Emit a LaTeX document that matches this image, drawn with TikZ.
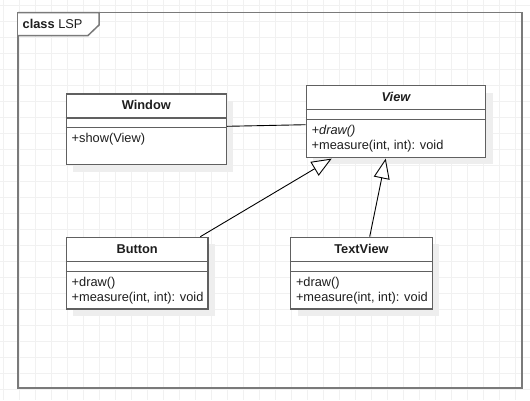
\documentclass[tikz,border=0pt]{standalone}
\usepackage{fontspec}
\setmainfont{Liberation Sans}
\usetikzlibrary{arrows.meta,calc,shadows}

\definecolor{gridgray}{HTML}{F1F1F1}
\definecolor{framegray}{HTML}{7A7A7A}
\definecolor{boxgray}{HTML}{606060}
\definecolor{shadowgray}{HTML}{EEEEEE}
\definecolor{textdark}{HTML}{1E1E1E}

\tikzset{
  gridline/.style={draw=gridgray, line width=0.8pt},
  frameline/.style={draw=framegray, line width=1.5pt},
  classbox/.style={draw=boxgray, line width=1.3pt, fill=white, inner sep=0pt,
    anchor=north west,
    drop shadow={shadow xshift=7pt, shadow yshift=-7pt, fill=shadowgray, opacity=1}},
  divider/.style={draw=boxgray, line width=1.3pt},
  classname/.style={anchor=base, inner sep=0pt, text=textdark,
    font=\fontsize{12.8}{15}\selectfont\bfseries},
  member/.style={anchor=base west, inner sep=0pt, text=textdark,
    font=\fontsize{12.8}{15}\selectfont},
  assoc/.style={draw=black, line width=0.9pt},
  generalization/.style={draw=black, line width=0.9pt,
    -{Triangle[length=20pt, width=16pt, fill=white]}},
}

\begin{document}
\begin{tikzpicture}[x=1pt, y=-1pt]
  \useasboundingbox (0,0) rectangle (530,400);
  \fill[white] (0,0) rectangle (530,400);

  % background grid
  \foreach \gx in {3,19,...,530} \draw[gridline] (\gx,0) -- (\gx,400);
  \foreach \gy in {5,21,...,400} \draw[gridline] (0,\gy) -- (530,\gy);

  % diagram frame with its name tab
  \draw[frameline] (18,12.5) rectangle (522,388);
  \draw[frameline, fill=white] (18,12.5) -- (99,12.5) -- (99,25) -- (88,35.5) -- (18,35.5);
  \node[member, anchor=base west] (title) at (22.5,28) {\textbf{class} LSP};

  % class boxes
  \node[classbox, minimum width=160pt, minimum height=70.7pt] (window) at (65.7,93.3) {};
  \node[classbox, minimum width=179.3pt, minimum height=71.7pt] (view) at (305.7,85) {};
  \node[classbox, minimum width=141.6pt, minimum height=71.6pt] (button) at (65.7,236.7) {};
  \node[classbox, minimum width=141.7pt, minimum height=71.6pt] (textview) at (290,236.7) {};

  % compartment separators
  \foreach \c in {window,view,button,textview} {
    \draw[divider] ($(\c.north west)+(0,24.8)$) -- ($(\c.north east)+(0,24.8)$);
    \draw[divider] ($(\c.north west)+(0,34.5)$) -- ($(\c.north east)+(0,34.5)$);
  }

  % Window
  \node[classname] (window-name) at ($(window.north)+(0,16.5)$) {Window};
  \node[member] (window-op1) at ($(window.north west)+(5.8,49.5)$) {+show(View)};

  % View (abstract)
  \node[classname] (view-name) at ($(view.north)+(0,16.5)$) {\itshape View};
  \node[member] (view-op1) at ($(view.north west)+(5.8,49.5)$) {\itshape +draw()};
  \node[member] (view-op2) at ($(view.north west)+(5.8,64.5)$) {+measure(int, int): void};

  % Button
  \node[classname] (button-name) at ($(button.north)+(0,16.8)$) {Button};
  \node[member] (button-op1) at ($(button.north west)+(5.8,49.8)$) {+draw()};
  \node[member] (button-op2) at ($(button.north west)+(5.8,64.8)$) {+measure(int, int): void};

  % TextView
  \node[classname] (textview-name) at ($(textview.north)+(0,16.8)$) {TextView};
  \node[member] (textview-op1) at ($(textview.north west)+(5.8,49.8)$) {+draw()};
  \node[member] (textview-op2) at ($(textview.north west)+(5.8,64.8)$) {+measure(int, int): void};

  % relations
  \draw[assoc] ($(window.east)+(0,-3)$) -- ($(view.west)+(0,3.2)$);
  \draw[generalization] ($(button.north east)+(-8.3,0)$) -- ($(view.south west)+(26,0.6)$);
  \draw[generalization] ($(textview.north)+(8.2,0)$) -- ($(view.south west)+(80,0.6)$);
\end{tikzpicture}
\end{document}
